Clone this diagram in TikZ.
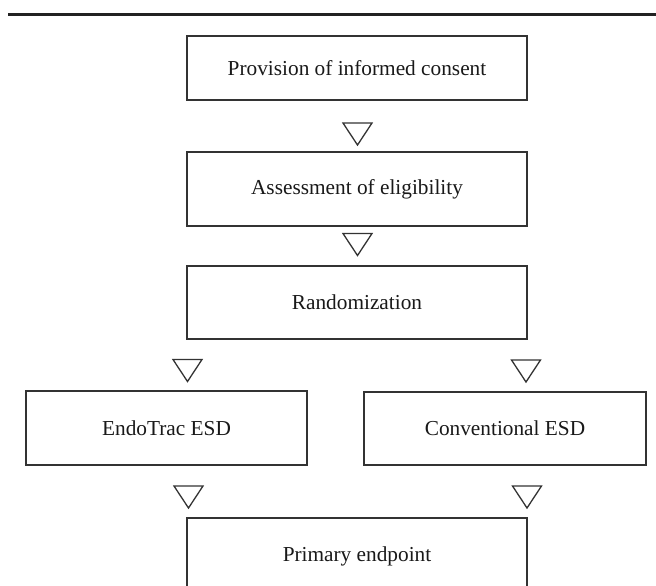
\documentclass[tikz,border=0pt]{standalone}
\usepackage{fontspec}
\setmainfont{Liberation Serif}
\definecolor{linegray}{HTML}{333333}
\definecolor{bargray}{HTML}{222222}
\begin{document}
\begin{tikzpicture}[x=1pt,y=-1pt,
  box/.style={draw=linegray, line width=1.4pt, fill=white, inner sep=0pt,
    font=\fontsize{21.3}{24}\selectfont, text=black!90},
  downtri/.pic={\draw[draw=linegray, line width=1.3pt, line join=miter]
    (-14.5,-11) -- (14.5,-11) -- (0,11) -- cycle;}]
\useasboundingbox (0,0) rectangle (656,586);
\clip (0,0) rectangle (656,586);
\fill[white] (0,0) rectangle (656,586);
% top rule
\coordinate (barL) at (8,14.5);
\coordinate (barR) at (656,14.5);
\draw[bargray, line width=3.5pt] (barL) -- (barR);
% boxes
\node[box, minimum width=340pt, minimum height=64pt] (b1) at (357,68) {Provision of informed consent};
\node[box, minimum width=340pt, minimum height=74pt] (b2) at (357,189) {Assessment of eligibility};
\node[box, minimum width=340pt, minimum height=73pt] (b3) at (357,302.5) {Randomization};
\node[box, minimum width=281pt, minimum height=74pt] (bl) at (166.5,428) {EndoTrac ESD};
\node[box, minimum width=282pt, minimum height=73pt] (br) at (505,428.5) {Conventional ESD};
\node[box, minimum width=340pt, minimum height=76pt] (b4) at (357,556) {Primary endpoint};
% flow triangles
\pic (t1) at (357.5,134) {downtri};
\pic (t2) at (357.5,244.5) {downtri};
\pic (t3l) at (187.5,370.5) {downtri};
\pic (t3r) at (526,371) {downtri};
\pic (t4l) at (188.5,497) {downtri};
\pic (t4r) at (527,497) {downtri};
\end{tikzpicture}
\end{document}
